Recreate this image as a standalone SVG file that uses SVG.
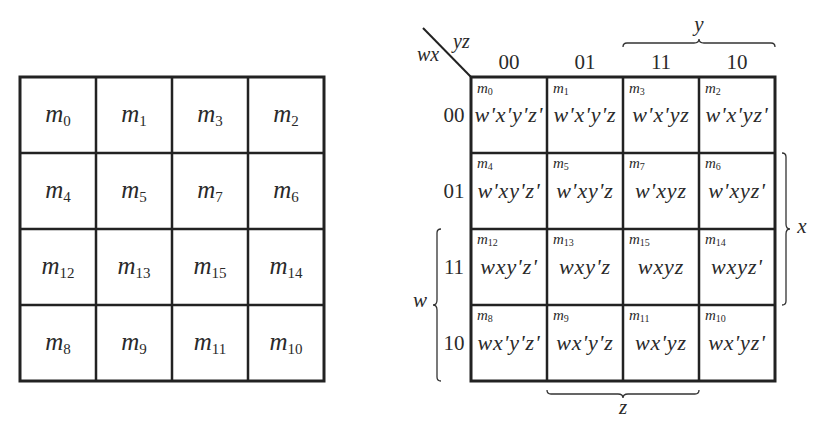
<svg xmlns="http://www.w3.org/2000/svg" width="814" height="431" viewBox="0 0 814 431">
<style>
.bg{fill:#fff}
.grid{fill:none;stroke:#222;stroke-width:2.5}
.outer{fill:none;stroke:#222;stroke-width:3}
.it{font-family:"Liberation Serif","Times New Roman",serif;font-style:italic;fill:#2a2a2a}
.rm{font-family:"Liberation Serif","Times New Roman",serif;fill:#2a2a2a}
.big{font-size:22px;text-anchor:middle}
.term{letter-spacing:0.9px}
.lm{font-size:25px;text-anchor:middle}
.sub{font-style:normal}
.small{font-size:15px}
.num{font-size:21px;text-anchor:middle}
.brace{fill:none;stroke:#333;stroke-width:1.3}
</style>
<rect class="bg" width="814" height="431"/>

<g id="left-map">
  <rect class="outer" x="20" y="77" width="304" height="304"/>
  <path class="grid" d="M96 77V381M172 77V381M248 77V381M20 153H324M20 229H324M20 305H324"/>
  <g id="L0"><text class="it lm" x="58" y="122">m<tspan class="sub" font-size="15" dy="4">0</tspan></text></g>
  <g id="L1"><text class="it lm" x="134" y="122">m<tspan class="sub" font-size="15" dy="4">1</tspan></text></g>
  <g id="L3"><text class="it lm" x="210" y="122">m<tspan class="sub" font-size="15" dy="4">3</tspan></text></g>
  <g id="L2"><text class="it lm" x="286" y="122">m<tspan class="sub" font-size="15" dy="4">2</tspan></text></g>
  <g id="L4"><text class="it lm" x="58" y="198">m<tspan class="sub" font-size="15" dy="4">4</tspan></text></g>
  <g id="L5"><text class="it lm" x="134" y="198">m<tspan class="sub" font-size="15" dy="4">5</tspan></text></g>
  <g id="L7"><text class="it lm" x="210" y="198">m<tspan class="sub" font-size="15" dy="4">7</tspan></text></g>
  <g id="L6"><text class="it lm" x="286" y="198">m<tspan class="sub" font-size="15" dy="4">6</tspan></text></g>
  <g id="L12"><text class="it lm" x="58" y="274">m<tspan class="sub" font-size="15" dy="4">12</tspan></text></g>
  <g id="L13"><text class="it lm" x="134" y="274">m<tspan class="sub" font-size="15" dy="4">13</tspan></text></g>
  <g id="L15"><text class="it lm" x="210" y="274">m<tspan class="sub" font-size="15" dy="4">15</tspan></text></g>
  <g id="L14"><text class="it lm" x="286" y="274">m<tspan class="sub" font-size="15" dy="4">14</tspan></text></g>
  <g id="L8"><text class="it lm" x="58" y="350">m<tspan class="sub" font-size="15" dy="4">8</tspan></text></g>
  <g id="L9"><text class="it lm" x="134" y="350">m<tspan class="sub" font-size="15" dy="4">9</tspan></text></g>
  <g id="L11"><text class="it lm" x="210" y="350">m<tspan class="sub" font-size="15" dy="4">11</tspan></text></g>
  <g id="L10"><text class="it lm" x="286" y="350">m<tspan class="sub" font-size="15" dy="4">10</tspan></text></g>
</g>

<g id="right-map">
  <rect class="outer" x="471" y="77" width="304" height="304"/>
  <path class="grid" d="M547 77V381M623 77V381M699 77V381M471 153H775M471 229H775M471 305H775"/>
  <g id="axis-labels">
    <text class="it" font-size="20" x="453" y="48">yz</text>
    <text class="it" font-size="20" x="417" y="61">wx</text>
    <text class="rm num" x="509" y="69">00</text>
    <text class="rm num" x="585" y="69">01</text>
    <text class="rm num" x="661" y="69">11</text>
    <text class="rm num" x="737" y="69">10</text>
    <text class="rm num" x="454" y="122">00</text>
    <text class="rm num" x="454" y="198">01</text>
    <text class="rm num" x="454" y="274">11</text>
    <text class="rm num" x="454" y="350">10</text>
    <text class="it" font-size="21" text-anchor="middle" x="699" y="31">y</text>
    <text class="it" font-size="21" text-anchor="middle" x="802" y="233">x</text>
    <text class="it" font-size="21" text-anchor="middle" x="420" y="307">w</text>
    <text class="it" font-size="21" text-anchor="middle" x="623" y="414">z</text>
  </g>
  <g id="R0"><text class="it small" x="477" y="93">m<tspan class="sub" font-size="10" dy="2">0</tspan></text><text class="it big term" x="509" y="122">w'x'y'z'</text></g>
  <g id="R1"><text class="it small" x="553" y="93">m<tspan class="sub" font-size="10" dy="2">1</tspan></text><text class="it big term" x="585" y="122">w'x'y'z</text></g>
  <g id="R3"><text class="it small" x="629" y="93">m<tspan class="sub" font-size="10" dy="2">3</tspan></text><text class="it big term" x="661" y="122">w'x'yz</text></g>
  <g id="R2"><text class="it small" x="705" y="93">m<tspan class="sub" font-size="10" dy="2">2</tspan></text><text class="it big term" x="737" y="122">w'x'yz'</text></g>
  <g id="R4"><text class="it small" x="477" y="168">m<tspan class="sub" font-size="10" dy="2">4</tspan></text><text class="it big term" x="509" y="198">w'xy'z'</text></g>
  <g id="R5"><text class="it small" x="553" y="168">m<tspan class="sub" font-size="10" dy="2">5</tspan></text><text class="it big term" x="585" y="198">w'xy'z</text></g>
  <g id="R7"><text class="it small" x="629" y="168">m<tspan class="sub" font-size="10" dy="2">7</tspan></text><text class="it big term" x="661" y="198">w'xyz</text></g>
  <g id="R6"><text class="it small" x="705" y="168">m<tspan class="sub" font-size="10" dy="2">6</tspan></text><text class="it big term" x="737" y="198">w'xyz'</text></g>
  <g id="R12"><text class="it small" x="477" y="244">m<tspan class="sub" font-size="10" dy="2">12</tspan></text><text class="it big term" x="509" y="274">wxy'z'</text></g>
  <g id="R13"><text class="it small" x="553" y="244">m<tspan class="sub" font-size="10" dy="2">13</tspan></text><text class="it big term" x="585" y="274">wxy'z</text></g>
  <g id="R15"><text class="it small" x="629" y="244">m<tspan class="sub" font-size="10" dy="2">15</tspan></text><text class="it big term" x="661" y="274">wxyz</text></g>
  <g id="R14"><text class="it small" x="705" y="244">m<tspan class="sub" font-size="10" dy="2">14</tspan></text><text class="it big term" x="737" y="274">wxyz'</text></g>
  <g id="R8"><text class="it small" x="477" y="320">m<tspan class="sub" font-size="10" dy="2">8</tspan></text><text class="it big term" x="509" y="350">wx'y'z'</text></g>
  <g id="R9"><text class="it small" x="553" y="320">m<tspan class="sub" font-size="10" dy="2">9</tspan></text><text class="it big term" x="585" y="350">wx'y'z</text></g>
  <g id="R11"><text class="it small" x="629" y="320">m<tspan class="sub" font-size="10" dy="2">11</tspan></text><text class="it big term" x="661" y="350">wx'yz</text></g>
  <g id="R10"><text class="it small" x="705" y="320">m<tspan class="sub" font-size="10" dy="2">10</tspan></text><text class="it big term" x="737" y="350">wx'yz'</text></g>
</g>

<g id="connectors">
  <line x1="423" y1="28" x2="471" y2="77" stroke="#222" stroke-width="2"/>
  <path class="brace" d="M623 47Q623 43 627 43H694Q699 43 699 39Q699 43 704 43H771Q775 43 775 47"/>
  <path class="brace" d="M782 153Q786 153 786 157V224Q786 229 790 229Q786 229 786 234V301Q786 305 782 305"/>
  <path class="brace" d="M441 229Q437 229 437 233V300Q437 305 433 305Q437 305 437 310V377Q437 381 441 381"/>
  <path class="brace" d="M547 390Q547 394 551 394H618Q623 394 623 398Q623 394 628 394H695Q699 394 699 390"/>
</g>
</svg>
